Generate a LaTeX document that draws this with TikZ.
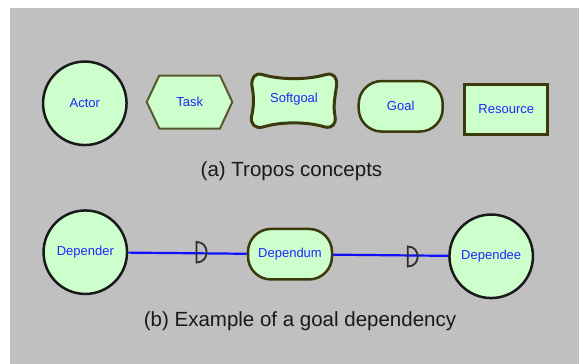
\documentclass[tikz,border=0pt]{standalone}
\usepackage{fontspec}
\setmainfont{Liberation Sans}
\usetikzlibrary{shapes.geometric}
\definecolor{bgg}{HTML}{C0C0C0}
\definecolor{fillg}{HTML}{CCFFCC}
\definecolor{olivedk}{HTML}{3A3A0C}
\definecolor{lbltxt}{HTML}{2424FF}
\definecolor{lineblue}{HTML}{1010FF}
\definecolor{markgrey}{HTML}{2E2E2E}
\begin{document}
\begin{tikzpicture}[x=1pt,y=-1pt,
  lbl/.style={font=\fontsize{13}{15}\selectfont, text=lbltxt, inner sep=0pt},
  captxt/.style={font=\fontsize{20.5}{24}\selectfont, text=black!90, anchor=base, inner sep=0pt},
  actorshape/.style={circle, draw=black!90, line width=2.5pt, fill=fillg, minimum size=83.5pt, inner sep=0pt, lbl},
  goalshape/.style={rectangle, rounded corners=23pt, draw=olivedk, line width=2.5pt, fill=fillg, minimum width=84pt, minimum height=50.5pt, inner sep=0pt, lbl},
  resshape/.style={rectangle, draw=olivedk, line width=3pt, fill=fillg, minimum width=83pt, minimum height=50pt, inner sep=0pt, lbl},
  taskshape/.style={draw=olivedk!85, line width=2pt, fill=fillg, line join=miter},
  softshape/.style={draw=olivedk, line width=3pt, fill=fillg},
  dep/.style={draw=lineblue, line width=2.2pt},
  dmark/.style={draw=markgrey, line width=1.8pt}
]
\useasboundingbox (0,0) rectangle (579,364);
\fill[white] (0,0) rectangle (579,364);
\fill[bgg] (10,8) rectangle (579,364);

% (a) concepts
\node[actorshape] (actor) at (84.8,103.3) {Actor};

\draw[taskshape] (146.7,102) -- (159.3,75.5) -- (220,75.5) -- (232.3,102) -- (220,128.5) -- (159.3,128.5) -- cycle;
\node[lbl] (task) at (189.8,102) {Task};

\draw[softshape] (262,74.5)
  .. controls (280,80) and (308,80) .. (326,74.5)
  .. controls (334,72.5) and (337.5,78) .. (336.5,86)
  .. controls (335,97) and (333,106) .. (335,116)
  .. controls (336.5,124) and (332,128.5) .. (325,127)
  .. controls (307,121.5) and (281,121.5) .. (263,127)
  .. controls (255,129) and (250.5,124) .. (251.5,117)
  .. controls (254,106) and (254,96) .. (252,86)
  .. controls (251,78) and (255,72.5) .. (262,74.5) -- cycle;
\node[lbl] (soft) at (294,99.5) {Softgoal};

\node[goalshape] (goal) at (400.7,106.3) {Goal};
\node[resshape] (res) at (506.3,109.2) {Resource};

\node[captxt] (capa) at (291.5,176) {(a) Tropos concepts};

% (b) dependency
\node[actorshape] (dr) at (85.3,252.2) {Depender};
\node[goalshape] (dm) at (290,254.2) {Dependum};
\node[actorshape] (de) at (491.2,256.3) {Dependee};

\draw[dep] (dr) -- (dm);
\draw[dep] (dm) -- (de);

\coordinate (d1) at (196.5,252.2);
\coordinate (d2) at (407.8,256.5);
\draw[dmark] ([yshift=-10.3pt]d1) .. controls +(13.5,0) and +(13.5,0) .. ([yshift=10.3pt]d1) -- cycle;
\draw[dmark] ([yshift=-10pt]d2) .. controls +(13.2,0) and +(13.2,0) .. ([yshift=10pt]d2) -- cycle;

\node[captxt] (capb) at (300,326) {(b) Example of a goal dependency};
\end{tikzpicture}
\end{document}
